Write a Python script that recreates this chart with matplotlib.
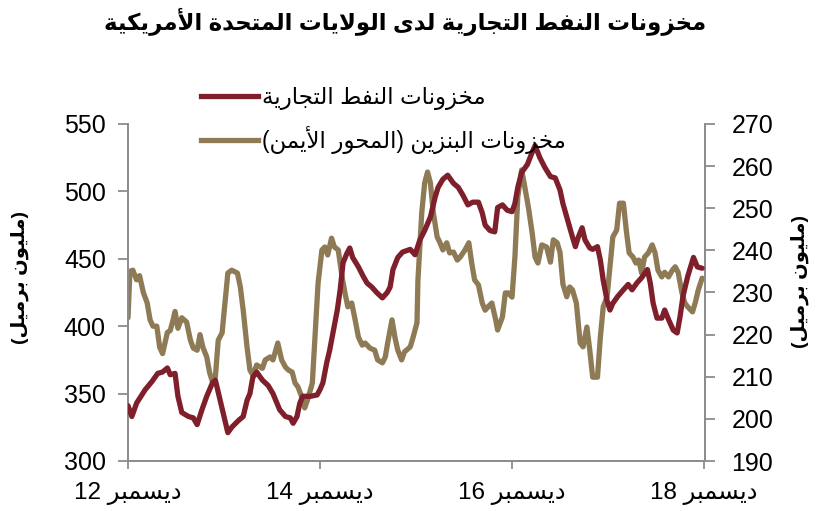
import re
import matplotlib
matplotlib.use("Agg")
import matplotlib.pyplot as plt
from matplotlib.lines import Line2D

# ---------------- Arabic shaping (presentation forms + visual order) -------------
FORMS = {
    '\u0627': ('\uFE8D', '\uFE8E', None, None),
    '\u0623': ('\uFE83', '\uFE84', None, None),
    '\u0628': ('\uFE8F', '\uFE90', '\uFE91', '\uFE92'),
    '\u0629': ('\uFE93', '\uFE94', None, None),
    '\u062A': ('\uFE95', '\uFE96', '\uFE97', '\uFE98'),
    '\u062C': ('\uFE9D', '\uFE9E', '\uFE9F', '\uFEA0'),
    '\u062D': ('\uFEA1', '\uFEA2', '\uFEA3', '\uFEA4'),
    '\u062E': ('\uFEA5', '\uFEA6', '\uFEA7', '\uFEA8'),
    '\u062F': ('\uFEA9', '\uFEAA', None, None),
    '\u0631': ('\uFEAD', '\uFEAE', None, None),
    '\u0632': ('\uFEAF', '\uFEB0', None, None),
    '\u0633': ('\uFEB1', '\uFEB2', '\uFEB3', '\uFEB4'),
    '\u0637': ('\uFEC1', '\uFEC2', '\uFEC3', '\uFEC4'),
    '\u0641': ('\uFED1', '\uFED2', '\uFED3', '\uFED4'),
    '\u0643': ('\uFED9', '\uFEDA', '\uFEDB', '\uFEDC'),
    '\u0644': ('\uFEDD', '\uFEDE', '\uFEDF', '\uFEE0'),
    '\u0645': ('\uFEE1', '\uFEE2', '\uFEE3', '\uFEE4'),
    '\u0646': ('\uFEE5', '\uFEE6', '\uFEE7', '\uFEE8'),
    '\u0647': ('\uFEE9', '\uFEEA', '\uFEEB', '\uFEEC'),
    '\u0648': ('\uFEED', '\uFEEE', None, None),
    '\u0649': ('\uFEEF', '\uFEF0', None, None),
    '\u064A': ('\uFEF1', '\uFEF2', '\uFEF3', '\uFEF4'),
}
LAMALEF = {'\u0627': ('\uFEFB', '\uFEFC'), '\u0623': ('\uFEF7', '\uFEF8')}


def _joins_left(c):
    return c in FORMS and FORMS[c][2] is not None


def shape(s):
    res = []
    n = len(s)
    i = 0
    while i < n:
        c = s[i]
        if c in FORMS:
            jp = i > 0 and _joins_left(s[i - 1])
            if c == '\u0644' and i + 1 < n and s[i + 1] in LAMALEF:
                iso, fin = LAMALEF[s[i + 1]]
                res.append(fin if jp else iso)
                i += 2
                continue
            jn = _joins_left(c) and i + 1 < n and s[i + 1] in FORMS
            iso, fin, ini, med = FORMS[c]
            if jp and jn:
                res.append(med)
            elif jp:
                res.append(fin)
            elif jn:
                res.append(ini)
            else:
                res.append(iso)
        else:
            res.append(c)
        i += 1
    return ''.join(res)


def ar(s):
    v = shape(s)[::-1]
    v = re.sub(r'[0-9]+', lambda m: m.group(0)[::-1], v)
    return v.translate(str.maketrans('()', ')('))


# ---------------- data ----------------
title = "مخزونات النفط التجارية لدى الولايات المتحدة الأمريكية"
crude_label = "مخزونات النفط التجارية"
gas_label = "مخزونات البنزين (المحور الأيمن)"
unit_label = "(مليون برميل)"
x_ticks = [2012.92, 2014.92, 2016.92, 2018.92]
x_tick_labels = ["ديسمبر 12", "ديسمبر 14", "ديسمبر 16", "ديسمبر 18"]
left_ticks = [300, 350, 400, 450, 500, 550]
right_ticks = [190, 200, 210, 220, 230, 240, 250, 260, 270]

crude_t = [2012.92, 2012.96, 2013.01, 2013.10, 2013.17, 2013.23, 2013.28, 2013.33, 2013.36, 2013.41,
           2013.44, 2013.48, 2013.55, 2013.60, 2013.64, 2013.69, 2013.74, 2013.80, 2013.83, 2013.88,
           2013.93, 2013.96, 2014.00, 2014.07, 2014.12, 2014.16, 2014.19, 2014.22, 2014.26, 2014.32,
           2014.38, 2014.43, 2014.50, 2014.56, 2014.61, 2014.64, 2014.68, 2014.71, 2014.74, 2014.82,
           2014.89, 2014.92, 2014.95, 2014.99, 2015.02, 2015.06, 2015.10, 2015.13, 2015.16, 2015.20,
           2015.23, 2015.26, 2015.32, 2015.37, 2015.41, 2015.46, 2015.51, 2015.57, 2015.62, 2015.65,
           2015.68, 2015.73, 2015.78, 2015.86, 2015.91, 2015.96, 2016.01, 2016.07, 2016.12, 2016.15,
           2016.20, 2016.25, 2016.31, 2016.36, 2016.41, 2016.46, 2016.51, 2016.57, 2016.61, 2016.64,
           2016.69, 2016.74, 2016.77, 2016.82, 2016.87, 2016.92, 2016.95, 2016.98, 2017.02, 2017.08,
           2017.13, 2017.16, 2017.21, 2017.26, 2017.32, 2017.37, 2017.42, 2017.45, 2017.49, 2017.55,
           2017.58, 2017.61, 2017.65, 2017.68, 2017.73, 2017.76, 2017.81, 2017.84, 2017.87, 2017.91,
           2017.94, 2017.97, 2018.02, 2018.08, 2018.13, 2018.17, 2018.22, 2018.27, 2018.33, 2018.36,
           2018.39, 2018.43, 2018.48, 2018.51, 2018.55, 2018.60, 2018.64, 2018.67, 2018.70, 2018.75,
           2018.81, 2018.85, 2018.90]
crude_v = [341, 333, 343, 353, 359, 365, 366, 369, 364, 365,
           348, 336, 333, 332, 327, 338, 348, 358, 360, 345,
           330, 321, 325, 330, 333, 345, 350, 362, 366, 360,
           356, 350, 338, 333, 332, 328, 333, 343, 348, 348,
           349, 353, 358, 373, 382, 397, 412, 427, 447, 454,
           458, 451, 444, 437, 432, 429, 425, 421, 425, 429,
           442, 451, 455, 457, 453, 464, 471, 481, 496, 503,
           509, 512, 506, 503, 497, 490, 492, 492, 484, 475,
           471, 470, 488, 490, 486, 485, 491, 503, 514, 520,
           529, 534, 525, 518, 511, 510, 501, 491, 481, 466,
           459, 466, 473, 464, 458, 457, 459, 449, 434, 419,
           412, 417, 422, 427, 431, 427, 432, 436, 442, 432,
           417, 406, 406, 412, 405, 397, 395, 407, 422, 437,
           451, 444, 443]

gas_t = [2012.92, 2012.94, 2012.97, 2013.01, 2013.04, 2013.08, 2013.12, 2013.15, 2013.18, 2013.22,
         2013.25, 2013.28, 2013.33, 2013.36, 2013.39, 2013.41, 2013.44, 2013.48, 2013.53, 2013.57,
         2013.60, 2013.64, 2013.67, 2013.70, 2013.74, 2013.77, 2013.80, 2013.83, 2013.86, 2013.90,
         2013.93, 2013.96, 2014.00, 2014.06, 2014.09, 2014.12, 2014.16, 2014.19, 2014.22, 2014.26,
         2014.32, 2014.35, 2014.40, 2014.43, 2014.48, 2014.52, 2014.56, 2014.59, 2014.63, 2014.66,
         2014.69, 2014.73, 2014.76, 2014.79, 2014.84, 2014.87, 2014.90, 2014.94, 2014.97, 2015.00,
         2015.04, 2015.07, 2015.11, 2015.15, 2015.18, 2015.21, 2015.25, 2015.28, 2015.32, 2015.36,
         2015.39, 2015.44, 2015.49, 2015.52, 2015.57, 2015.60, 2015.63, 2015.67, 2015.70, 2015.73,
         2015.77, 2015.80, 2015.86, 2015.89, 2015.93, 2015.94, 2015.98, 2016.01, 2016.04, 2016.07,
         2016.10, 2016.14, 2016.17, 2016.20, 2016.24, 2016.27, 2016.31, 2016.35, 2016.38, 2016.43,
         2016.47, 2016.50, 2016.53, 2016.57, 2016.61, 2016.64, 2016.67, 2016.71, 2016.75, 2016.77,
         2016.82, 2016.85, 2016.88, 2016.92, 2016.95, 2016.98, 2017.02, 2017.04, 2017.09, 2017.13,
         2017.16, 2017.19, 2017.23, 2017.28, 2017.32, 2017.35, 2017.39, 2017.42, 2017.45, 2017.49,
         2017.52, 2017.55, 2017.59, 2017.63, 2017.66, 2017.70, 2017.73, 2017.76, 2017.81, 2017.84,
         2017.87, 2017.91, 2017.94, 2017.97, 2018.01, 2018.04, 2018.08, 2018.11, 2018.14, 2018.18,
         2018.21, 2018.24, 2018.27, 2018.30, 2018.34, 2018.38, 2018.41, 2018.44, 2018.48, 2018.51,
         2018.55, 2018.59, 2018.62, 2018.65, 2018.69, 2018.72, 2018.75, 2018.80, 2018.83, 2018.86,
         2018.90]
gas_v = [224, 235, 235.3, 233, 234, 230, 227.5, 223.5, 222, 222,
         217, 215.5, 220.5, 221, 223.5, 225.5, 221.5, 224, 223, 218.7,
         216.8, 216.3, 220, 217, 214.7, 211, 208.8, 210, 218.7, 220.4,
         227.5, 234.6, 235.3, 234.6, 231.3, 225.8, 217, 211.6, 210.4, 212.8,
         212, 214, 214.7, 214, 218, 214, 212.3, 211.6, 211.1, 208.5,
         207.6, 205.2, 202.6, 204.5, 208.5, 220.4, 232.3, 240.1, 240.8, 238.9,
         242.9, 240.8, 240.1, 233.7, 229.9, 226.6, 227.5, 224.2, 219.4, 217.5,
         218, 216.8, 216.3, 214, 213.3, 214.7, 218.7, 223.5, 219.4, 216.3,
         214, 215.9, 217.1, 219.4, 222.8, 233, 249, 256, 258.6, 256,
         249, 243.2, 241.8, 240.1, 241.8, 239.4, 239.6, 237.7, 238.4, 240.1,
         241.8, 237, 233, 231.8, 227.5, 225.8, 226.6, 227.5, 223.5, 221.1,
         224.2, 229.9, 229.9, 228.9, 238.4, 252.7, 259.1, 256.7, 250.3, 244.1,
         238.4, 237, 241.3, 240.8, 237.2, 242.5, 241.8, 239.5, 232, 229,
         231.3, 230.6, 227.5, 218, 217.1, 221.8, 216.3, 209.9, 209.9, 219.4,
         226.6, 229, 236.1, 243.2, 244.8, 251.2, 251.2, 244.8, 239.4, 238.4,
         237, 237.7, 234.6, 238.4, 239.4, 241.3, 239.4, 235.3, 233.7, 234.8,
         233.7, 235.3, 236.1, 234.8, 229.9, 227.5, 226.6, 225.4, 227.7, 230.6,
         233.4]

# ---------------- style ----------------
RED = '#7E1F2B'
TAN = '#8E7A55'
GREY = '#8C8C8C'
FAM = ['Liberation Sans', 'DejaVu Sans']
plt.rcParams['font.family'] = FAM

fig = plt.figure(figsize=(8.16, 5.11), dpi=100)
ax = fig.add_axes([128 / 816, 50 / 511, 577 / 816, 337 / 511])
ax2 = ax.twinx()

ax.plot(crude_t, crude_v, color=RED, lw=3.8, solid_joinstyle='round', solid_capstyle='round', zorder=3)
ax2.plot(gas_t, gas_v, color=TAN, lw=3.8, solid_joinstyle='round', solid_capstyle='round', zorder=2)
ax.set_zorder(ax2.get_zorder() + 1)
ax.patch.set_visible(False)

ax.set_xlim(2012.92, 2018.93)
ax.set_ylim(300, 550)
ax2.set_ylim(190, 270)
ax.set_yticks(left_ticks)
ax2.set_yticks(right_ticks)
ax.set_xticks(x_ticks)
ax.set_xticklabels([ar(s) for s in x_tick_labels])

for a in (ax, ax2):
    a.spines['top'].set_visible(False)
    for side in ('left', 'right', 'bottom'):
        a.spines[side].set_color(GREY)
        a.spines[side].set_linewidth(1.3)
ax.tick_params(axis='y', direction='out', length=7, width=1.3, color=GREY, labelsize=18, pad=9)
ax2.tick_params(axis='y', direction='out', length=7, width=1.3, color=GREY, labelsize=18, pad=12)
ax.tick_params(axis='x', direction='out', length=6, width=1.3, color=GREY, labelsize=17.5, pad=9)

fig.text(405 / 816, 1 - 22 / 511, ar(title), ha='center', va='center', fontsize=16.5,
         fontweight='bold', family=FAM)
fig.text(20 / 816, 1 - 278 / 511, ar(unit_label), ha='center', va='center', rotation=90,
         fontsize=14, fontweight='bold', family=FAM)
fig.text(800 / 816, 1 - 282 / 511, ar(unit_label), ha='center', va='center', rotation=90,
         fontsize=14, fontweight='bold', family=FAM)

handles = [Line2D([], [], color=RED, lw=3.8), Line2D([], [], color=TAN, lw=3.8)]
fig.legend(handles, [ar(crude_label), ar(gas_label)], loc='upper left',
           bbox_to_anchor=(192 / 816, 1 - 77 / 511), frameon=False, fontsize=16.5,
           handlelength=2.5, handletextpad=0.15, labelspacing=0.7, borderaxespad=0)

fig.savefig('out.png', dpi=100)
